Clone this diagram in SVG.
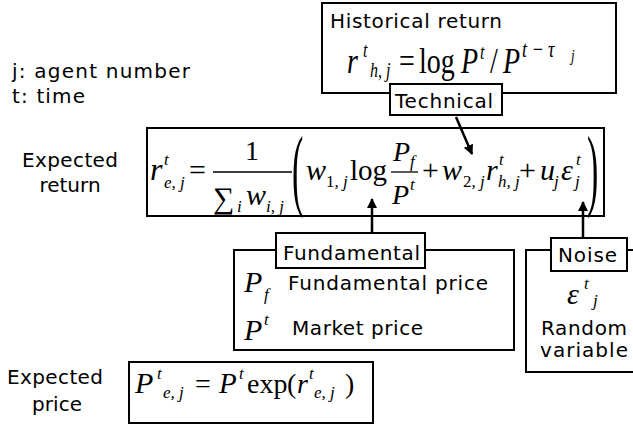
<svg xmlns="http://www.w3.org/2000/svg" width="633" height="428" viewBox="0 0 633 428">
<defs>
<style>
.t{font-family:"DejaVu Sans","Verdana",sans-serif;font-size:20px;fill:#000}
.m{font-family:"Liberation Serif","Times New Roman",serif;fill:#000}
.i{font-style:italic}
.box{fill:#fff;stroke:#000;stroke-width:2}
.conn{stroke:#000;stroke-width:2.5;fill:none;marker-end:url(#ah)}
</style>
<marker id="ah" viewBox="0 0 10 10" refX="9" refY="5" markerWidth="4" markerHeight="5" markerUnits="strokeWidth" orient="auto">
<path d="M0,0 L10,5 L0,10 z" fill="#000"/>
</marker>
</defs>
<rect width="633" height="428" fill="#fff"/>

<g id="legend">
<text class="t" x="12" y="78" textLength="178" lengthAdjust="spacing">j: agent number</text>
<text class="t" x="12" y="103" textLength="73" lengthAdjust="spacing">t: time</text>
</g>

<g id="historical">
<rect class="box" x="322" y="3" width="294" height="90"/>
<text class="t" x="330" y="28" textLength="172" lengthAdjust="spacing">Historical return</text>
<g transform="matrix(1,0,0,1.3,0,-21.9)">
<text class="m i" x="347" y="73" font-size="28">r</text>
<text class="m i" x="363" y="61" font-size="16">t</text>
<text class="m i" x="370" y="76" font-size="16">h, j</text>
<text class="m" x="399" y="73" font-size="28">=</text>
<text class="m" x="419" y="73" font-size="28">log</text>
<text class="m i" x="461" y="73" font-size="28">P</text>
<text class="m i" x="480" y="62" font-size="16">t</text>
<text class="m" x="490" y="73" font-size="28">/</text>
<text class="m i" x="503" y="73" font-size="28">P</text>
<text class="m i" x="522" y="61" font-size="18">t − τ</text>
<text class="m i" x="571" y="64" font-size="13">j</text>
</g>
</g>

<g id="technical">
<rect class="box" x="390" y="84" width="112" height="31"/>
<text class="t" x="395" y="108" textLength="98" lengthAdjust="spacing">Technical</text>
</g>

<g id="expected-return">
<text class="t" x="22" y="167" textLength="96" lengthAdjust="spacing">Expected</text>
<text class="t" x="70" y="192" text-anchor="middle">return</text>
<rect class="box" x="147" y="128" width="457" height="88"/>
<text class="m i" x="150" y="180" font-size="32">r</text>
<text class="m i" x="164" y="165" font-size="17">t</text>
<text class="m i" x="164" y="188" font-size="17">e, j</text>
<text class="m" x="189" y="180" font-size="30">=</text>
<text class="m" x="245" y="160" font-size="28">1</text>
<line x1="213" y1="172" x2="292" y2="172" stroke="#000" stroke-width="1.3"/>
<text class="m" x="213" y="208" font-size="30">∑</text>
<text class="m i" x="237" y="212" font-size="17">i</text>
<text class="m i" x="246" y="205" font-size="30">w</text>
<text class="m i" x="266" y="212" font-size="17">i, j</text>
<text class="m" x="0" y="73.6" font-size="34" transform="translate(292,0) scale(1,2.7)">(</text>
<text class="m i" x="306" y="180" font-size="30">w</text>
<text class="m" x="326" y="187" font-size="17">1<tspan class="i">, j</tspan></text>
<text class="m" x="350" y="180" font-size="29">log</text>
<text class="m i" x="393" y="161" font-size="28">P</text>
<text class="m i" x="410" y="167" font-size="17">f</text>
<line x1="391" y1="172" x2="418" y2="172" stroke="#000" stroke-width="1.3"/>
<text class="m i" x="392" y="204" font-size="28">P</text>
<text class="m i" x="410" y="190" font-size="17">t</text>
<text class="m" x="422" y="180" font-size="30">+</text>
<text class="m i" x="442" y="180" font-size="30">w</text>
<text class="m" x="463" y="187" font-size="17">2<tspan class="i">, j</tspan></text>
<text class="m i" x="486" y="180" font-size="30">r</text>
<text class="m i" x="499" y="165" font-size="17">t</text>
<text class="m i" x="498" y="187" font-size="17">h, j</text>
<text class="m" x="519" y="180" font-size="30">+</text>
<text class="m i" x="540" y="180" font-size="30">u</text>
<text class="m i" x="554" y="187" font-size="17">j</text>
<text class="m i" x="561" y="180" font-size="30">ε</text>
<text class="m i" x="576" y="165" font-size="17">t</text>
<text class="m i" x="575" y="187" font-size="17">j</text>
<text class="m" x="0" y="73.6" font-size="34" transform="translate(587,0) scale(1,2.7)">)</text>
</g>

<g id="fundamental">
<rect class="box" x="234" y="250" width="280" height="100"/>
<rect class="box" x="276" y="233" width="149" height="35"/>
<text class="t" x="283" y="260" textLength="137" lengthAdjust="spacing">Fundamental</text>
<text class="m i" x="244" y="292" font-size="30">P</text>
<text class="m i" x="264" y="300" font-size="17">f</text>
<text class="t" x="288" y="290" textLength="200" lengthAdjust="spacing">Fundamental price</text>
<text class="m i" x="244" y="340" font-size="30">P</text>
<text class="m i" x="264" y="325" font-size="17">t</text>
<text class="t" x="292" y="335" textLength="131" lengthAdjust="spacing">Market price</text>
</g>

<g id="noise">
<rect class="box" x="526" y="250" width="120" height="122"/>
<rect class="box" x="551" y="238" width="76" height="33"/>
<text class="t" x="558" y="262" textLength="59" lengthAdjust="spacing">Noise</text>
<text class="m i" x="567" y="304" font-size="30">ε</text>
<text class="m i" x="584" y="289" font-size="17">t</text>
<text class="m i" x="593" y="306" font-size="17">j</text>
<text class="t" x="584" y="335" text-anchor="middle" textLength="86" lengthAdjust="spacing">Random</text>
<text class="t" x="584" y="357" text-anchor="middle" textLength="88" lengthAdjust="spacing">variable</text>
</g>

<g id="expected-price">
<text class="t" x="7" y="384" textLength="96" lengthAdjust="spacing">Expected</text>
<text class="t" x="32" y="411" textLength="50" lengthAdjust="spacing">price</text>
<rect class="box" x="129" y="362" width="244" height="61"/>
<text class="m i" x="135" y="393" font-size="30">P</text>
<text class="m i" x="157" y="379" font-size="17">t</text>
<text class="m i" x="163" y="398" font-size="17">e, j</text>
<text class="m" x="195" y="393" font-size="28">=</text>
<text class="m i" x="219" y="393" font-size="29">P</text>
<text class="m i" x="239" y="379" font-size="17">t</text>
<text class="m" x="247" y="393" font-size="28">exp</text>
<text class="m" x="287" y="393" font-size="28">(</text>
<text class="m i" x="297" y="393" font-size="28">r</text>
<text class="m i" x="309" y="379" font-size="17">t</text>
<text class="m i" x="314" y="398" font-size="17">e, j</text>
<text class="m" x="345" y="393" font-size="28">)</text>
</g>

<g id="connectors">
<line class="conn" x1="456" y1="117" x2="472" y2="154"/>
<line class="conn" x1="372" y1="233" x2="372" y2="199"/>
<line class="conn" x1="583" y1="238" x2="583" y2="202"/>
</g>
</svg>
